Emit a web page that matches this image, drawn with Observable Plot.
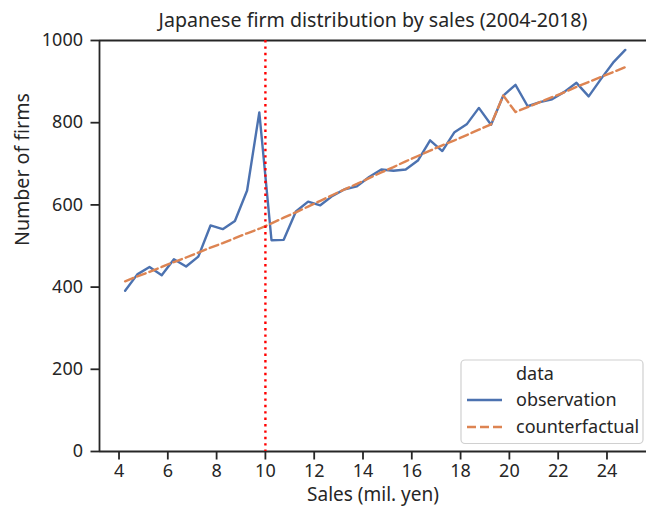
<!DOCTYPE html>
<html>
<head>
<meta charset="utf-8">
<script src="https://cdn.jsdelivr.net/npm/d3@7"></script>
<script src="https://cdn.jsdelivr.net/npm/@observablehq/plot@0.6"></script>
<style>
  body { margin: 0; background: #fff; }
  #chart svg { display: block; }
</style>
</head>
<body>
<div id="chart"></div>
<script>
// Sales bins (mil. yen), bin centres
const sales = [
  4.25, 4.75, 5.25, 5.75, 6.25, 6.75, 7.25, 7.75, 8.25, 8.75,
  9.25, 9.75, 10.25, 10.75, 11.25, 11.75, 12.25, 12.75, 13.25, 13.75,
  14.25, 14.75, 15.25, 15.75, 16.25, 16.75, 17.25, 17.75, 18.25, 18.75,
  19.25, 19.75, 20.25, 20.75, 21.25, 21.75, 22.25, 22.75, 23.25, 23.75,
  24.25, 24.75
];

// Observed number of firms per bin
const observation = [
  391, 431, 449, 429, 468, 450, 474, 550, 541, 561,
  635, 825, 514, 515, 584, 608, 599, 622, 638, 645,
  668, 686, 683, 686, 708, 757, 731, 777, 796, 836,
  795, 866, 892, 840, 850, 857, 875, 897, 864, 906,
  946, 977
];

// Counterfactual number of firms per bin
const counterfactual = [
  414, 426, 437, 449, 461, 472, 484, 496, 507, 519,
  531, 542, 555, 569, 582, 596, 610, 624, 638, 651,
  665, 679, 692, 706, 719, 732, 745, 757, 770, 783,
  796, 866, 826, 838, 850, 862, 874, 887, 899, 911,
  923, 935
];

const seriesNames = ["observation", "counterfactual"];
const seriesColors = ["#4c72b0", "#dd8452"];
const seriesDash = [null, "9,4"];

const xTicks = [4, 6, 8, 10, 12, 14, 16, 18, 20, 22, 24];
const yTicks = [0, 200, 400, 600, 800, 1000];
const cutoff = 10;

const titleText = "Japanese firm distribution by sales (2004-2018)";
const xLabel = "Sales (mil. yen)";
const yLabel = "Number of firms";
const legendTitle = "data";

const rows = seriesNames.flatMap((name, k) =>
  sales.map((s, i) => ({
    sales: s,
    firms: (k === 0 ? observation : counterfactual)[i],
    data: name
  }))
);

const ink = "#262626";
const font = "'Noto Sans', sans-serif";
const xMin = 3.2;

const chart = Plot.plot({
  width: 646,
  height: 508,
  marginLeft: 99,
  marginRight: 0,
  marginTop: 40,
  marginBottom: 57,
  style: { fontFamily: font, fontSize: "18px", color: ink, background: "#fff" },
  x: { domain: [xMin, 25.62] },
  y: { domain: [0, 1000] },
  marks: [
    Plot.axisX({ ticks: xTicks, tickSize: 8.5, tickPadding: 4, fontSize: 18, label: null,
                 stroke: ink, strokeWidth: 1.8, fill: ink, tickFormat: d => String(d) }),
    Plot.axisY({ ticks: yTicks, tickSize: 8.5, tickPadding: 8, fontSize: 18, label: null,
                 stroke: ink, strokeWidth: 1.8, fill: ink, tickFormat: d => String(d) }),
    Plot.ruleY([0, 1000], { stroke: ink, strokeWidth: 1.8 }),
    Plot.ruleX([xMin], { stroke: ink, strokeWidth: 1.8 }),
    Plot.line(rows.filter(d => d.data === seriesNames[0]), {
      x: "sales", y: "firms", stroke: seriesColors[0], strokeWidth: 2.4
    }),
    Plot.line(rows.filter(d => d.data === seriesNames[1]), {
      x: "sales", y: "firms", stroke: seriesColors[1], strokeWidth: 2.4, strokeDasharray: seriesDash[1]
    }),
    Plot.ruleX([cutoff], { stroke: "#ff0000", strokeWidth: 2.4, strokeDasharray: "2.4,4" }),
    Plot.text([titleText], { frameAnchor: "top", lineAnchor: "middle", dy: -20, fontSize: 19.6, fill: ink }),
    Plot.text([xLabel], { frameAnchor: "bottom", lineAnchor: "middle", dy: 43.5, fontSize: 19, fill: ink }),
    Plot.text([yLabel], { frameAnchor: "left", dx: -77, rotate: -90, fontSize: 19.6, fill: ink })
  ]
});

// Legend box in the lower right of the axes
const svg = d3.select(chart);
const lg = svg.append("g")
  .attr("font-family", font).attr("font-size", 18)
  .attr("fill", ink).attr("text-anchor", "start");
lg.append("rect")
  .attr("x", 461).attr("y", 360).attr("width", 182).attr("height", 83.5)
  .attr("rx", 4).attr("fill", "#fff").attr("fill-opacity", 0.85)
  .attr("stroke", "#d0d0d0").attr("stroke-width", 1.2);
lg.append("text").attr("x", 516).attr("y", 374).attr("dy", "0.35em").text(legendTitle);
seriesNames.forEach((name, k) => {
  const y = 400 + k * 27;
  lg.append("line")
    .attr("x1", 467).attr("x2", 502).attr("y1", y).attr("y2", y)
    .attr("stroke", seriesColors[k]).attr("stroke-width", 2.4)
    .attr("stroke-dasharray", seriesDash[k]);
  lg.append("text").attr("x", 516).attr("y", y).attr("dy", "0.35em").text(name);
});

document.getElementById("chart").appendChild(chart);
</script>
</body>
</html>
